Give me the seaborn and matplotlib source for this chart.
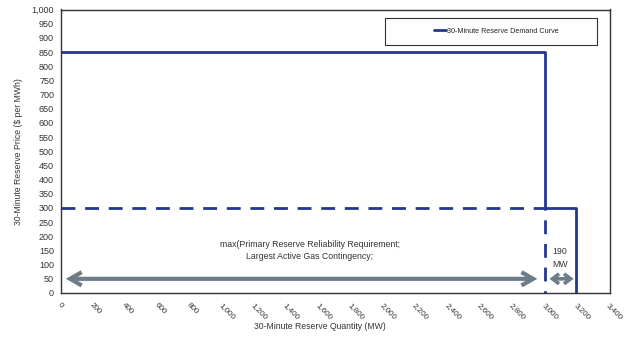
import matplotlib
matplotlib.use("Agg")
import matplotlib.pyplot as plt
import seaborn as sns
import pandas as pd
from matplotlib.patches import Rectangle

# Data
curve_qty = [0, 3000, 3000, 3190, 3190]
curve_price = [850, 850, 300, 300, 0]
ref_qty = [0, 3000, 3000]
ref_price = [300, 300, 0]
x_ticks = list(range(0, 3401, 200))
y_ticks = list(range(0, 1001, 50))
legend_label = "30-Minute Reserve Demand Curve"
note_text = "max(Primary Reserve Reliability Requirement;\nLargest Active Gas Contingency;"
mw_text = "190\nMW"

sns.set_theme(style="white")
plt.rcParams['font.family'] = ['Liberation Sans Narrow', 'Liberation Sans', 'DejaVu Sans']

navy = "#22378E"
gray = "#6E7B88"
tcol = "#333333"

fig = plt.figure(figsize=(6.26, 3.39), dpi=100)
ax = fig.add_axes([61/626, 1-293/339, 549/626, 283.5/339])

df1 = pd.DataFrame({"q": curve_qty, "p": curve_price})
df2 = pd.DataFrame({"q": ref_qty, "p": ref_price})
sns.lineplot(data=df2, x="q", y="p", sort=False, estimator=None, ax=ax,
             color=navy, lw=2.0, linestyle=(0, (5, 3.5)))
sns.lineplot(data=df1, x="q", y="p", sort=False, estimator=None, ax=ax,
             color=navy, lw=2.0, label=legend_label)

# Arrows
ax.annotate("", xy=(30, 50), xytext=(2950, 50),
            arrowprops=dict(arrowstyle="<->,head_length=0.7,head_width=0.4",
                            color=gray, lw=3.0, shrinkA=0, shrinkB=0,
                            capstyle="butt", joinstyle="miter"))
ax.annotate("", xy=(3025, 50), xytext=(3175, 50),
            arrowprops=dict(arrowstyle="<->,head_length=0.4,head_width=0.3",
                            color=gray, lw=2.6, shrinkA=0, shrinkB=0,
                            capstyle="butt", joinstyle="miter"))

ax.text(1540, 150, note_text, ha="center", va="center", fontsize=6.3, color=tcol,
        linespacing=1.5)
ax.text(3090, 123, mw_text, ha="center", va="center", fontsize=6.3, color=tcol,
        linespacing=1.5)

ax.set_xlim(0, 3400)
ax.set_ylim(0, 1000)
ax.set_xticks(x_ticks)
ax.set_xticklabels([f"{v:,}" for v in x_ticks], rotation=-45, ha="left",
                   rotation_mode="anchor", fontsize=5.8, color=tcol)
ax.set_yticks(y_ticks)
ax.set_yticklabels([f"{v:,}" for v in y_ticks], fontsize=6.5, color=tcol)
ax.tick_params(axis="both", direction="out", length=3, width=0.8, color=tcol, pad=2)
ax.tick_params(axis="x", pad=3)
for s in ax.spines.values():
    s.set_color(tcol)
    s.set_linewidth(1.0)

ax.set_xlabel("30-Minute Reserve Quantity (MW)", fontsize=6.2, color=tcol)
ax.xaxis.set_label_coords((320-61)/549, (293-322)/283.5)
ax.set_ylabel("30-Minute Reserve Price ($ per MWh)", fontsize=6.2, color=tcol, labelpad=6)

# Legend box
rect = Rectangle((385/626, 1-45/339), 212/626, 27/339, transform=fig.transFigure,
                 fill=False, edgecolor=tcol, lw=0.8)
fig.patches.append(rect)
ax.legend(loc="center", bbox_to_anchor=(496/626, 1-31.5/339), bbox_transform=fig.transFigure,
          frameon=False, fontsize=5.2, handlelength=1.7, handletextpad=0.1)

fig.savefig("out.png", dpi=100)
